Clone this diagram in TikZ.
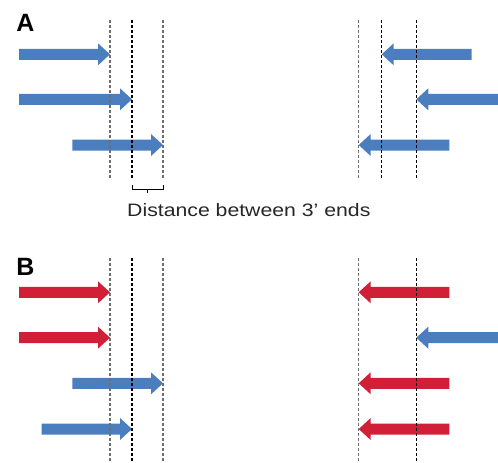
\documentclass[tikz,border=0pt]{standalone}
\usepackage{fontspec}
\setmainfont{Liberation Sans}
\definecolor{arrblue}{HTML}{4A7EBF}
\definecolor{arrred}{HTML}{D01F36}
\definecolor{dashgray}{HTML}{6E6E6E}
% right-pointing arrow: colour, tail x, tip x, y
\newcommand\RArr[4]{\fill[#1] (#2,#4-5.5) -- (#3-12,#4-5.5) -- (#3-12,#4-11) -- (#3,#4) -- (#3-12,#4+11) -- (#3-12,#4+5.5) -- (#2,#4+5.5) -- cycle;}
% left-pointing arrow: colour, tail x, tip x, y
\newcommand\LArr[4]{\fill[#1] (#2,#4-5.5) -- (#3+12,#4-5.5) -- (#3+12,#4-11) -- (#3,#4) -- (#3+12,#4+11) -- (#3+12,#4+5.5) -- (#2,#4+5.5) -- cycle;}
\tikzset{
  guide/.style={line width=1.2pt, dash pattern=on 3pt off 2pt},
  guidegray/.style={guide, dashgray},
  guideblack/.style={guide, black},
  panellabel/.style={inner sep=0pt, font=\fontsize{25}{28}\selectfont\bfseries},
}
\begin{document}
\begin{tikzpicture}[x=1pt,y=-1pt]
\useasboundingbox (0,0) rectangle (498,463);
% Panel A
\node[panellabel] (labA) at (25.5,22.5) {A};
\RArr{arrblue}{19}{110}{54.3}
\RArr{arrblue}{19}{132}{99.3}
\RArr{arrblue}{72.3}{163}{145}
\LArr{arrblue}{471.7}{381.7}{54.3}
\LArr{arrblue}{498}{416.3}{99.3}
\LArr{arrblue}{449.3}{358.7}{145}
\draw[guidegray] (110,20) -- (110,178);
\draw[guideblack] (132,20) -- (132,178);
\draw[guidegray] (163,20) -- (163,178);
\draw[guidegray] (358.7,20) -- (358.7,178);
\draw[guideblack] (381.7,20) -- (381.7,178);
\draw[guideblack] (416.3,20) -- (416.3,178);
\draw[line width=0.9pt] (132,185) -- (132,189.5) -- (163,189.5) -- (163,185);
\draw[line width=0.9pt] (147.5,189.5) -- (147.5,193);
\node[anchor=base west, inner sep=0pt, text=black!85] (dist) at (127,216.5)
  {\scalebox{1.18}[1]{\fontsize{18}{20}\selectfont Distance between 3’ ends}};
% Panel B
\node[panellabel] (labB) at (25.5,267) {B};
\RArr{arrred}{19}{110}{292.3}
\RArr{arrred}{19}{110}{337.7}
\RArr{arrblue}{72.3}{163}{383.3}
\RArr{arrblue}{41.7}{132}{429}
\LArr{arrred}{449.3}{358.7}{292.3}
\LArr{arrblue}{498}{416.3}{337.7}
\LArr{arrred}{449.3}{358.7}{383.3}
\LArr{arrred}{449.3}{358.7}{429}
\draw[guidegray] (110,258) -- (110,463);
\draw[guideblack] (132,258) -- (132,463);
\draw[guidegray] (163,258) -- (163,463);
\draw[guidegray] (358.7,258) -- (358.7,463);
\draw[guideblack] (416.3,258) -- (416.3,463);
\end{tikzpicture}
\end{document}
